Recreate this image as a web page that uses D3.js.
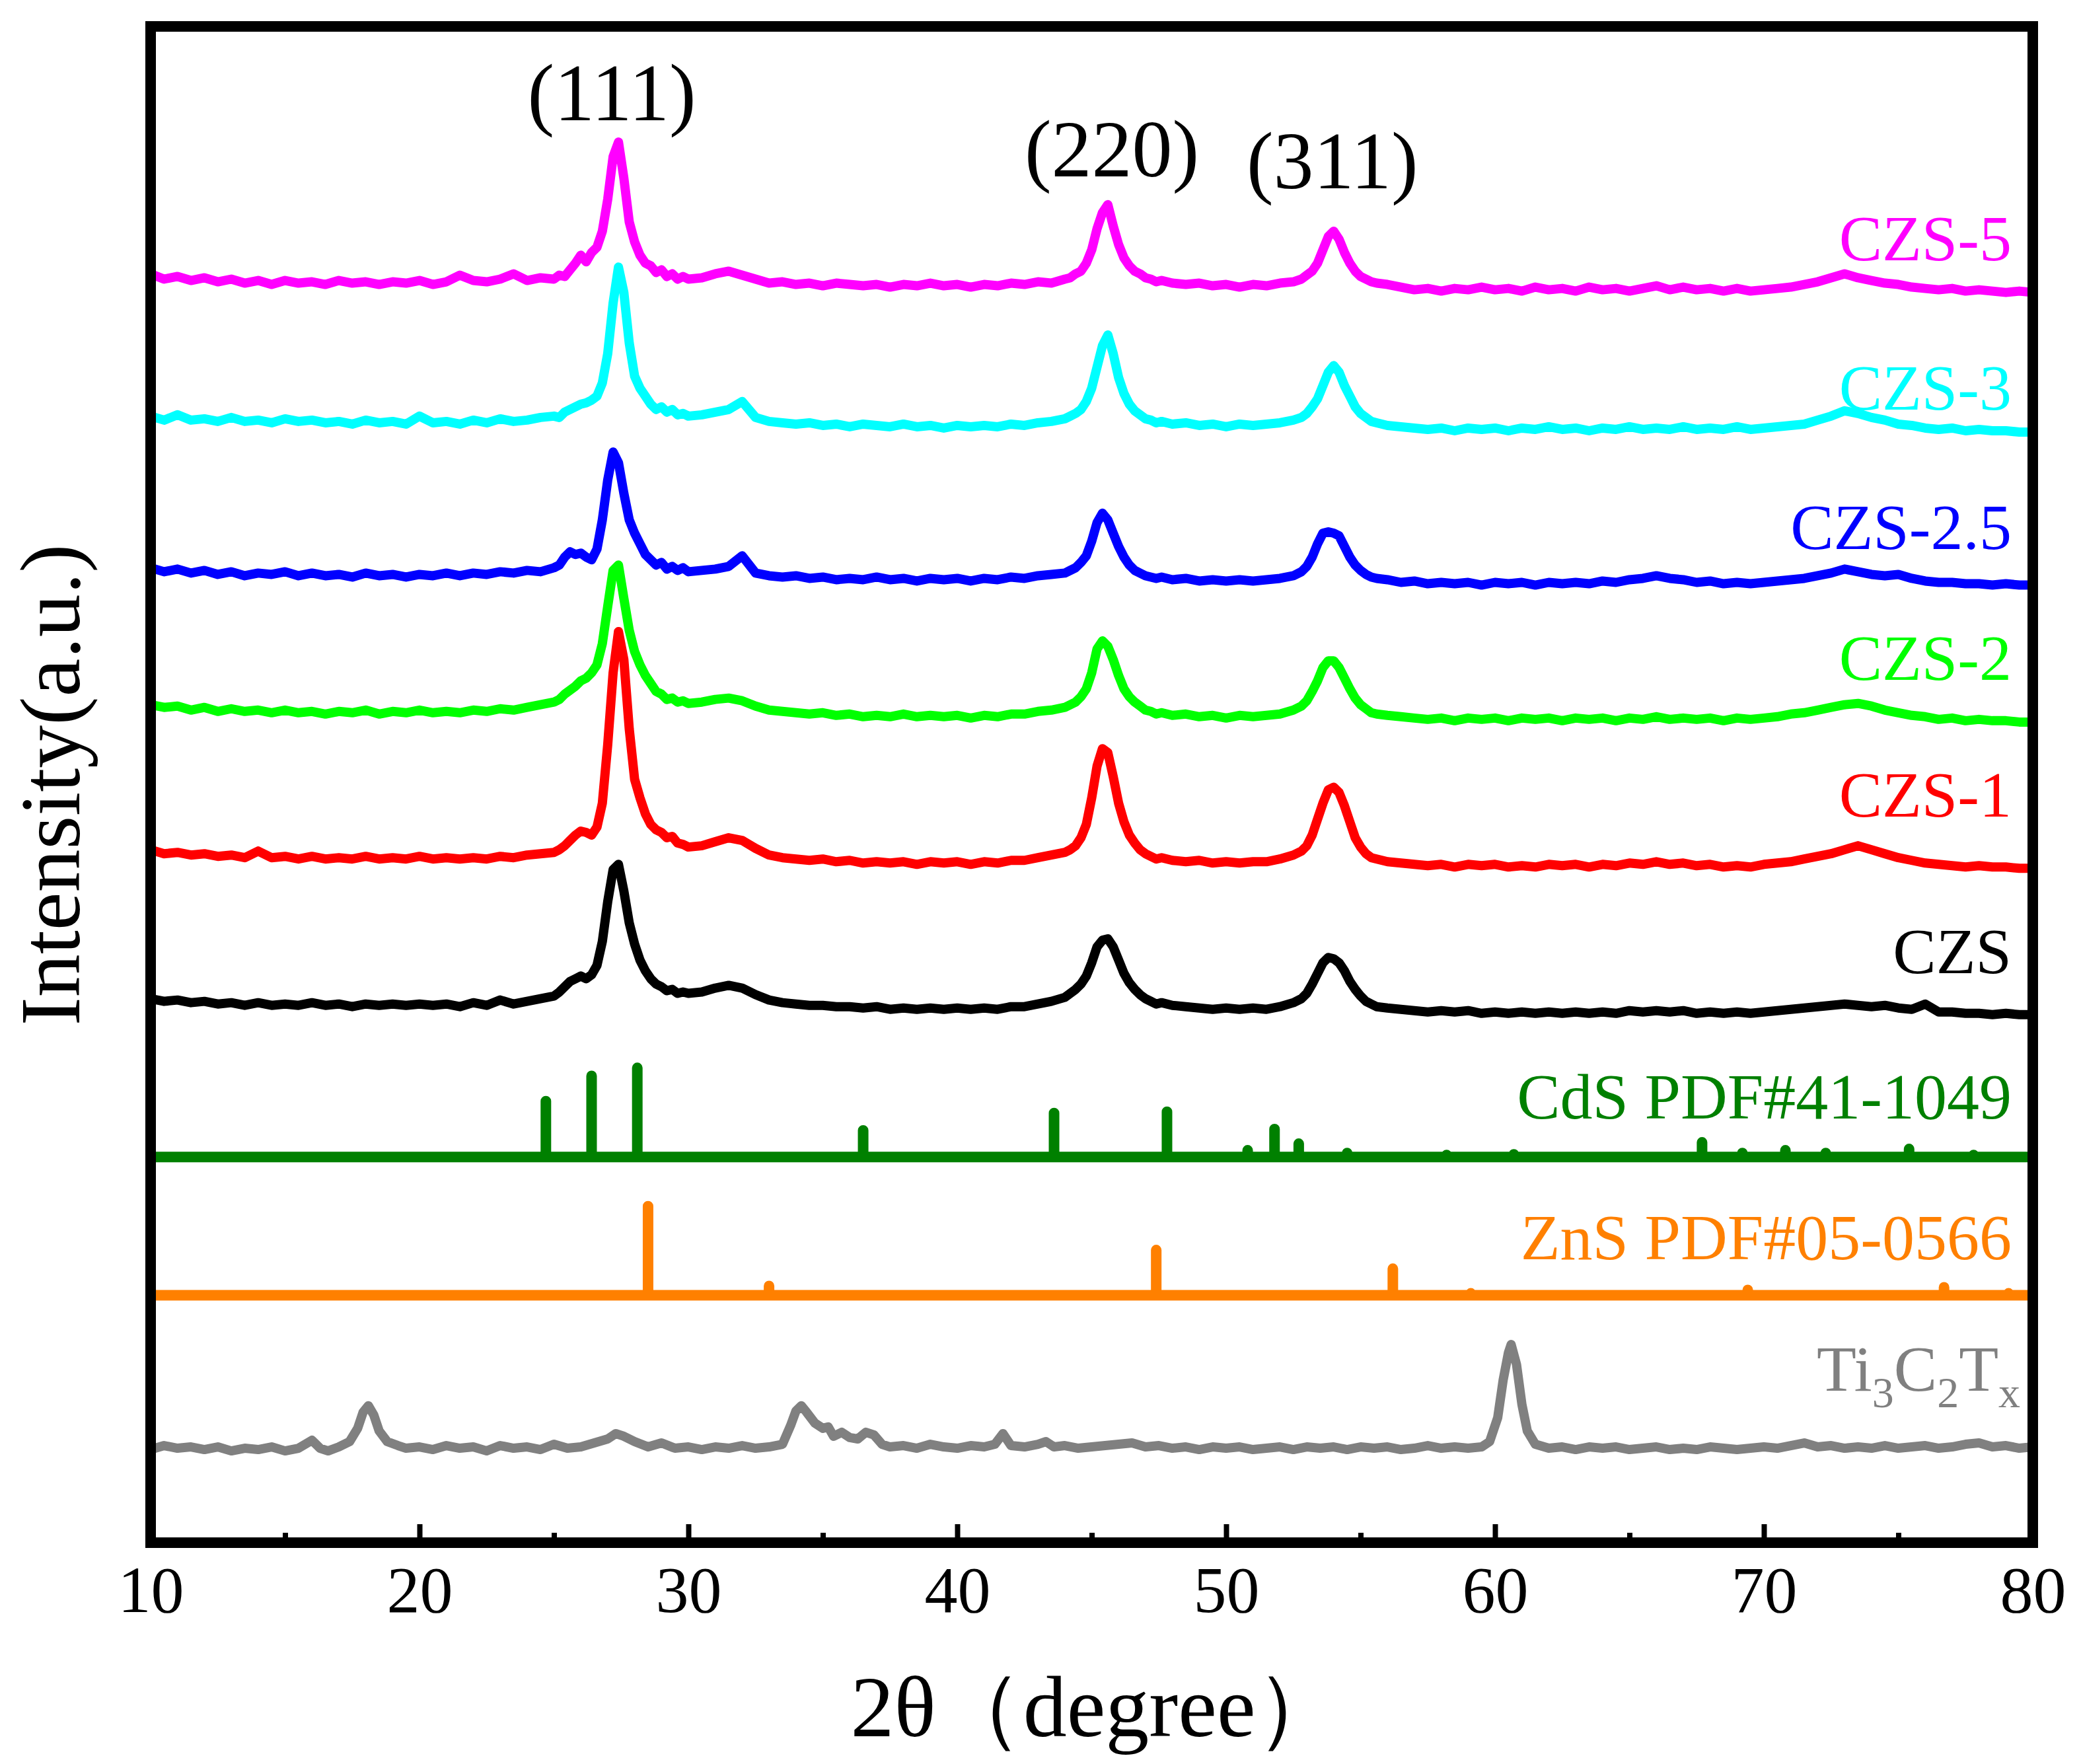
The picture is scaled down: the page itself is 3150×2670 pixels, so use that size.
<!DOCTYPE html>
<html>
<head>
<meta charset="utf-8">
<script src="https://cdn.jsdelivr.net/npm/d3@7/dist/d3.min.js"></script>
<style>
  html, body { margin: 0; padding: 0; background: #ffffff; }
  svg { display: block; }
  text { font-family: "Liberation Serif", "Times New Roman", "DejaVu Serif", serif; }
</style>
</head>
<body>
<svg id="chart" width="3150" height="2670"></svg>
<script>
// ---------------- DATA ----------------
// 2θ sampling grid shared by the six CZS patterns
const twoTheta = [
  10,10.5,11,11.5,12,12.5,13,13.5,14,14.5,15,15.5,16,16.5,17,17.5,18,18.5,19,19.5,20,20.5,21,21.5,22,22.5,23,23.5,24,24.5,
  25,25.2,25.4,25.6,25.8,26,26.2,26.4,26.6,26.8,27,27.2,27.4,27.6,27.8,28,28.2,28.4,28.6,28.8,29,29.2,29.4,29.6,29.8,30,
  30.5,31,31.5,32,32.5,33,33.5,34,34.5,35,35.5,36,36.5,37,37.5,38,38.5,39,39.5,40,40.5,41,41.5,42,42.5,43,43.5,
  44,44.2,44.4,44.6,44.8,45,45.2,45.4,45.6,45.8,46,46.2,46.4,46.6,46.8,47,47.2,47.4,47.6,
  48,48.5,49,49.5,50,50.5,51,51.5,52,52.5,
  52.8,53,53.2,53.4,53.6,53.8,54,54.2,54.4,54.6,54.8,55,55.2,55.4,55.6,
  56,56.5,57,57.5,58,58.5,59,59.5,60,60.5,61,61.5,62,62.5,63,63.5,64,64.5,65,65.5,66,66.5,67,67.5,68,68.5,69,69.5,70,70.5,
  71,71.5,72,72.5,73,73.5,74,74.5,75,75.5,76,76.5,77,77.5,78,78.5,79,79.5,80
];

// relative intensities (a.u.), before vertical stacking
const czs5 = [
  16,12,14,11,13,10,12,9,11,8,11,9,10,8,11,9,10,8,10,9,11,8,10,15,11,10,12,16,11,13,
  12,15,14,19,24,30,25,32,36,48,72,104,115,88,55,40,30,24,22,17,19,14,16,12,14,12,
  13,16,18,15,12,9,10,8,9,7,9,8,7,8,6,8,7,9,7,8,6,8,7,9,8,10,9,
  12,13,16,18,24,34,50,62,68,52,38,28,22,18,16,13,12,10,11,
  9,8,9,7,8,6,8,7,9,10,
  12,15,18,24,34,44,48,42,32,24,18,14,12,10,9,
  8,6,4,5,3,5,4,6,4,5, 3,6,4,5,3,6,4,5,3,5, 7,4,6,4,5,3,5,3,4,5, 6,8,10,13,16,13,11,9,8,6, 5,4,5,3,4,3,2,3,2
];
const czs3 = [
  15,12,16,12,13,11,14,11,12,10,13,11,12,10,11,9,12,10,11,9,15,10,11,9,12,10,13,11,12,14,
  15,14,18,20,22,24,25,27,30,40,62,100,127,108,70,45,36,30,24,20,22,18,20,16,17,15,
  16,18,20,26,14,11,10,9,10,8,9,7,9,8,7,9,7,8,6,8,7,8,7,9,8,10,11,
  13,15,17,20,26,36,52,68,76,62,44,32,24,19,16,13,12,10,11,
  9,10,8,9,7,9,8,9,10,12,
  14,17,22,28,38,48,53,48,38,30,22,17,14,11,10,
  8,7,6,5,6,4,6,5,6,4, 6,5,7,5,6,4,6,5,7,5, 6,5,7,5,6,5,7,5,6,7, 8,9,12,15,19,17,14,12,9,8, 6,5,6,4,5,4,4,3,3
];
const czs25 = [
  16,13,15,12,14,11,13,10,12,11,13,10,12,10,11,9,12,10,11,9,11,10,12,10,12,11,13,12,14,13,
  16,18,24,28,26,27,24,22,30,52,82,103,95,72,52,42,34,26,22,18,20,15,17,14,16,13,
  14,15,17,25,12,10,9,10,8,9,7,8,7,9,7,8,6,8,7,8,6,8,7,9,8,10,11,
  12,14,16,20,25,36,50,57,52,42,32,24,18,14,12,10,9,8,9,
  7,8,6,7,6,7,6,7,8,10,
  13,17,24,34,42,43,42,40,32,24,18,14,11,9,8,
  7,5,6,4,5,4,5,3,5,4, 5,3,5,4,5,4,6,5,7,8, 10,8,7,5,6,4,5,4,5,6, 7,8,10,12,15,13,11,10,11,8, 6,5,5,4,4,3,4,3,3
];
const czs2 = [
  16,14,15,12,14,11,13,11,12,10,12,10,11,9,11,10,12,9,11,10,12,10,11,10,12,11,13,12,14,16,
  18,20,24,27,30,34,36,40,46,62,90,117,121,96,72,56,46,38,32,26,24,20,21,18,19,17,
  18,20,21,19,15,12,11,10,9,10,8,9,7,8,7,9,7,8,7,8,6,8,7,9,9,11,12,
  14,16,18,22,28,40,58,64,60,50,38,28,22,18,15,12,11,9,10,
  8,9,7,8,6,8,7,8,9,12,
  15,19,26,34,44,49,49,44,36,28,21,16,13,10,9,
  8,7,6,5,6,4,6,5,6,4, 6,5,6,4,6,5,6,4,6,5, 7,5,6,5,6,4,6,5,6,7, 9,10,12,14,16,17,15,12,10,8, 7,5,6,4,5,4,4,3,3
];
const czs1 = [
  17,14,15,13,14,12,13,11,16,11,12,10,12,10,11,10,12,10,11,10,12,10,11,10,11,10,12,11,13,14,
  15,17,20,24,28,31,30,28,34,52,96,150,181,160,108,70,56,44,36,32,30,26,27,22,21,19,
  20,23,26,24,18,13,11,10,9,10,8,9,7,8,7,8,6,8,7,8,6,8,7,9,9,11,13,
  15,17,20,26,36,56,80,93,90,72,52,38,28,22,17,14,12,10,11,
  9,8,9,7,8,7,8,8,10,13,
  16,20,28,40,52,62,64,60,50,38,26,19,14,11,10,
  8,7,6,5,6,4,6,5,6,4, 5,4,6,5,6,4,6,5,7,6, 8,6,7,5,6,4,5,4,6,7, 8,10,12,14,17,20,17,14,11,9, 7,6,5,4,5,4,4,3,3
];
const czs0 = [
  15,13,14,12,13,11,12,10,12,10,11,10,12,10,11,9,11,10,11,10,11,10,11,9,12,10,14,11,13,15,
  17,20,24,28,30,32,30,33,40,58,88,112,116,96,72,56,44,36,30,26,24,21,22,19,20,19,
  20,23,25,23,18,14,12,11,10,10,9,9,8,9,7,8,7,8,7,8,7,8,7,9,9,11,13,
  16,19,22,26,32,42,54,59,60,54,44,34,27,22,18,15,13,11,12,
  10,9,8,7,8,7,8,7,9,12,
  15,19,26,34,42,46,45,42,36,28,22,17,13,11,9,
  8,7,6,5,6,5,6,4,5,4, 5,4,5,4,5,4,5,4,6,5, 6,5,6,4,5,4,5,4,5,6, 7,8,9,10,11,10,9,10,8,7, 11,5,5,4,4,3,4,3,3
];

// Ti3C2Tx pattern (own sampling grid)
const tiTheta = [
  10,10.5,11,11.5,12,12.5,13,13.5,14,14.5,15,15.5,16,16.3,16.6,17,17.4,17.7,17.9,18.1,18.3,18.5,18.8,19.2,19.5,
  20,20.5,21,21.5,22,22.5,23,23.5,24,24.5,25,25.5,26,26.5,27,27.3,27.6,28,28.5,29,29.5,
  30,30.5,31,31.5,32,32.5,33,33.5,33.8,34,34.2,34.4,34.7,35,35.2,35.4,35.7,36,36.3,36.6,36.9,37.2,37.5,
  38,38.5,39,39.5,40,40.5,41,41.4,41.7,42,42.5,43,43.3,43.6,44,44.5,45,45.5,46,46.5,47,47.5,
  48,48.5,49,49.5,50,50.5,51,51.5,52,52.5,53,53.5,54,54.5,55,55.5,56,56.5,57,57.5,58,58.5,59,59.5,
  59.8,60.1,60.3,60.5,60.6,60.8,61,61.2,61.5,62,62.5,63,63.5,64,64.5,65,65.5,66,66.5,67,67.5,68,68.5,
  69,69.5,70,70.5,71,71.5,72,72.5,73,73.5,74,74.5,75,75.5,76,76.5,77,77.5,78,78.5,79,79.5,80
];
const tiIntensity = [
  6,9,7,8,6,8,5,7,6,8,5,7,13,7,5,8,12,22,34,39,32,20,12,9,7,
  8,6,9,7,8,5,9,7,8,6,10,7,8,11,14,18,16,12,8,11,7,
  8,6,8,7,9,7,8,10,24,35,39,34,26,22,23,16,19,15,14,19,17,10,8,
  9,7,10,8,7,9,8,10,18,9,8,10,12,8,9,7,8,9,10,11,8,9,
  7,8,6,8,7,8,6,7,8,6,8,7,8,6,8,7,8,6,7,9,7,8,7,8,
  12,30,58,79,85,70,40,20,10,7,8,6,8,7,8,6,7,8,6,7,6,8,7,
  6,7,8,7,9,11,8,9,7,8,7,9,7,8,9,7,8,10,11,8,9,7,8
];

// standard stick patterns
const cdsTheta     = [24.7, 26.4, 28.1, 36.5, 43.6, 47.8, 50.8, 51.8, 52.7, 54.5, 58.2, 60.7, 67.7, 69.2, 70.8, 72.3, 75.4, 77.8];
const cdsIntensity = [42, 61, 67, 20, 33, 34, 5, 21, 10, 3, 1.5, 2, 11, 3, 5, 3, 6, 1.5];
const znsTheta     = [28.5, 33.0, 47.4, 56.2, 59.1, 69.4, 76.7, 79.1];
const znsIntensity = [67, 7, 34, 20, 1.5, 4, 6, 1.5];

// series names, colours and vertical stacking offsets
const seriesNames   = ["CZS-5", "CZS-3", "CZS-2.5", "CZS-2", "CZS-1", "CZS"];
const seriesValues  = [czs5, czs3, czs25, czs2, czs1, czs0];
const seriesColors  = ["#ff00ff", "#00ffff", "#0000ff", "#00ff00", "#ff0000", "#000000"];
const seriesOffsets = [941, 835, 720, 617, 507, 397];

const cdsName = "CdS PDF#41-1049", cdsColor = "#008000", cdsOffset = 293;
const znsName = "ZnS PDF#05-0566", znsColor = "#ff8000", znsOffset = 189;
const tiColor = "#808080", tiOffset = 67;

const majorTicks = [10, 20, 30, 40, 50, 60, 70, 80];
const minorTicks = [15, 25, 35, 45, 55, 65, 75];
const planeLabels = ["(111)", "(220)", "(311)"];
const planeTheta  = [27.15, 45.75, 53.95];

// ---------------- LAYOUT ----------------
const svg = d3.select("#chart");
const pLeft = 228, pRight = 3077, pTop = 40, pBottom = 2335;
const x = d3.scaleLinear().domain([10, 80]).range([pLeft, pRight]);
const y = d3.scaleLinear().domain([3, 1143]).range([pBottom, pTop]);

const line = d3.line()
  .defined(d => d[1] != null && !isNaN(d[1]))
  .x(d => x(d[0])).y(d => y(d[1]));

const curveWidth = 14;

// CZS curves
seriesValues.forEach((vals, i) => {
  const pts = twoTheta.map((t, k) => [t, vals[k] == null ? null : vals[k] + seriesOffsets[i]]);
  svg.append("path").datum(pts)
    .attr("d", line)
    .attr("fill", "none")
    .attr("stroke", seriesColors[i])
    .attr("stroke-width", curveWidth)
    .attr("stroke-linejoin", "round");
});

// Ti3C2Tx curve
svg.append("path")
  .datum(tiTheta.map((t, k) => [t, tiIntensity[k] + tiOffset]))
  .attr("d", line)
  .attr("fill", "none")
  .attr("stroke", tiColor)
  .attr("stroke-width", curveWidth)
  .attr("stroke-linejoin", "round");

// stick patterns
function stickPath(thetas, heights, offset) {
  const pts = [[10, offset]];
  thetas.forEach((t, i) => {
    pts.push([t, offset]);
    pts.push([t, offset + heights[i]]);
    pts.push([t, offset]);
  });
  pts.push([80, offset]);
  return pts;
}
svg.append("path").datum(stickPath(cdsTheta, cdsIntensity, cdsOffset))
  .attr("d", line).attr("fill", "none").attr("stroke", cdsColor)
  .attr("stroke-width", 16).attr("stroke-linejoin", "round");
svg.append("path").datum(stickPath(znsTheta, znsIntensity, znsOffset))
  .attr("d", line).attr("fill", "none").attr("stroke", znsColor)
  .attr("stroke-width", 16).attr("stroke-linejoin", "round");

// frame
svg.append("rect")
  .attr("x", pLeft).attr("y", pTop)
  .attr("width", pRight - pLeft).attr("height", pBottom - pTop)
  .attr("fill", "none").attr("stroke", "#000").attr("stroke-width", 16);

// bottom axis: inward ticks
const axisMajor = d3.axisBottom(x).tickValues(majorTicks).tickSize(-28).tickPadding(34).tickFormat(d3.format("d"));
const gMajor = svg.append("g").attr("transform", `translate(0,${pBottom})`).call(axisMajor);
gMajor.attr("font-family", null);
gMajor.select(".domain").remove();
gMajor.selectAll(".tick line").attr("stroke", "#000").attr("stroke-width", 8);
gMajor.selectAll(".tick text")
  .attr("font-family", "Liberation Serif, Times New Roman, serif")
  .attr("font-size", 100).attr("fill", "#000");

const axisMinor = d3.axisBottom(x).tickValues(minorTicks).tickSize(-15).tickFormat("");
const gMinor = svg.append("g").attr("transform", `translate(0,${pBottom})`).call(axisMinor);
gMinor.select(".domain").remove();
gMinor.selectAll(".tick line").attr("stroke", "#000").attr("stroke-width", 8);

// axis titles
svg.append("text")
  .attr("x", 1660).attr("y", 2628)
  .attr("text-anchor", "middle")
  .attr("font-size", 132)
  .attr("fill", "#000")
  .text("2θ（degree）");

svg.append("text")
  .attr("transform", "translate(120,1188) rotate(-90)")
  .attr("text-anchor", "middle")
  .attr("font-size", 130)
  .attr("fill", "#000")
  .text("Intensity(a.u.)");

// plane annotations
const planeY = [182, 267, 285];
planeLabels.forEach((t, i) => {
  svg.append("text")
    .attr("x", x(planeTheta[i]))
    .attr("y", planeY[i])
    .attr("text-anchor", "middle")
    .attr("font-size", 122)
    .attr("fill", "#000")
    .text(t);
});

// series labels
const labelY = [394, 620, 831, 1029, 1236, 1473];
seriesNames.forEach((n, i) => {
  svg.append("text")
    .attr("x", 3045).attr("y", labelY[i])
    .attr("text-anchor", "end")
    .attr("font-size", 98)
    .attr("fill", seriesColors[i])
    .text(n);
});
svg.append("text").attr("x", 3045).attr("y", 1693)
  .attr("text-anchor", "end").attr("font-size", 98).attr("fill", cdsColor).text(cdsName);
svg.append("text").attr("x", 3045).attr("y", 1906)
  .attr("text-anchor", "end").attr("font-size", 98).attr("fill", znsColor).text(znsName);

const ti = svg.append("text").attr("x", 3058).attr("y", 2105)
  .attr("text-anchor", "end").attr("font-size", 98).attr("fill", tiColor);
ti.append("tspan").text("Ti");
ti.append("tspan").attr("font-size", 66).attr("dy", 25).text("3");
ti.append("tspan").attr("dy", -25).text("C");
ti.append("tspan").attr("font-size", 66).attr("dy", 25).text("2");
ti.append("tspan").attr("dy", -25).text("T");
ti.append("tspan").attr("font-size", 66).attr("dy", 25).text("x");
</script>
</body>
</html>
